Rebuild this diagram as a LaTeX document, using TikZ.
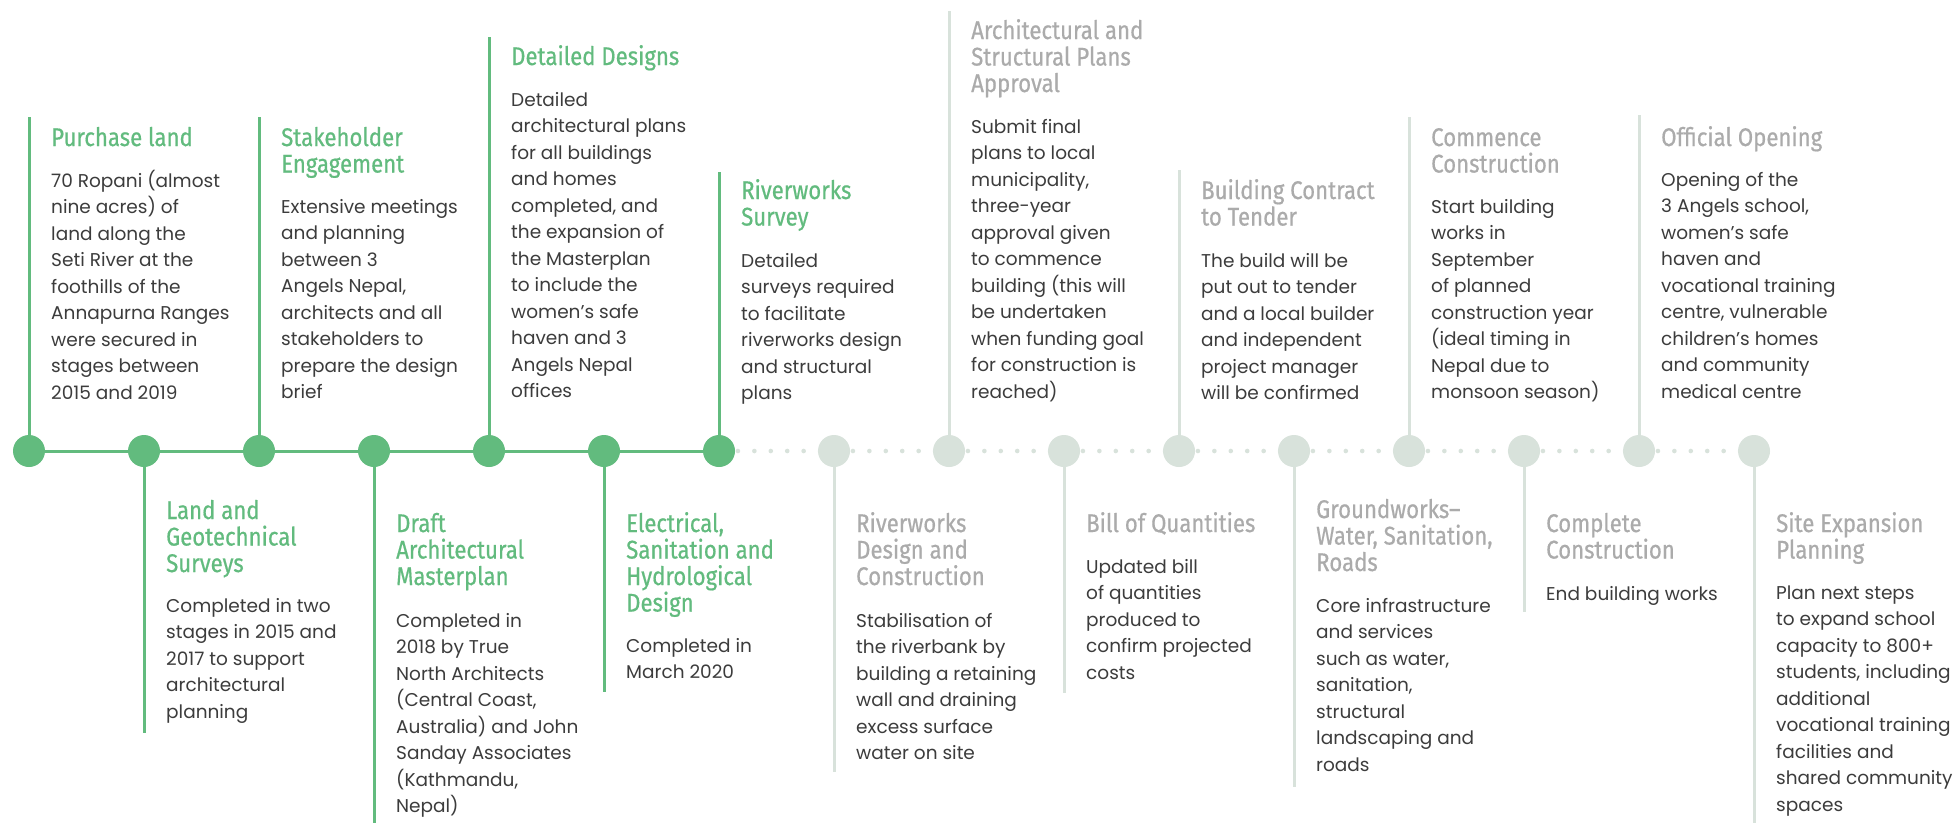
\documentclass[tikz,border=0pt]{standalone}
\usepackage{fontspec}
\usetikzlibrary{calc}
\setmainfont{Poppins}
\newfontfamily\ttlfont[FakeStretch=0.87,FakeBold=0.6]{Fira Sans}
\definecolor{tgreen}{HTML}{62BB7E}
\definecolor{tgrey}{HTML}{D8E2DB}
\definecolor{ttlgrey}{HTML}{ABABAB}
\definecolor{bodyc}{HTML}{3C3C3C}
\newcommand\stk[1]{\vtop{\baselineskip=26.5pt\lineskiplimit=-100pt\lineskip=0pt\halign{##\hfil\cr#1\crcr}}}
\begin{document}
\begin{tikzpicture}[x=1pt,y=-1pt,
  gline/.style={draw=tgreen,line width=3pt},
  qline/.style={draw=tgrey,line width=3pt},
  gcirc/.style={circle,fill=tgreen,minimum size=32pt,inner sep=0pt},
  qcirc/.style={circle,fill=tgrey,minimum size=32pt,inner sep=0pt},
  ttlg/.style={anchor=base west,inner sep=0pt,text=tgreen,font=\ttlfont\fontsize{25.5}{26.5}\selectfont},
  ttlq/.style={anchor=base west,inner sep=0pt,text=ttlgrey,font=\ttlfont\fontsize{25.5}{26.5}\selectfont},
  bodyt/.style={anchor=base west,inner sep=0pt,text=bodyc,font=\fontsize{18.5}{26.5}\selectfont}]
\useasboundingbox (0,0) rectangle (1953,823);
\fill[white] (0,0) rectangle (1953,823);
% timeline points
\foreach \k in {0,...,15}{\coordinate (p\k) at ({29+115*\k},451);}
% line ends
\coordinate (t0) at (29,117);
\coordinate (t1) at (144,733);
\coordinate (t2) at (259,117);
\coordinate (t3) at (374,823);
\coordinate (t4) at (489,37);
\coordinate (t5) at (604,692);
\coordinate (t6) at (719,172);
\coordinate (t7) at (834,772);
\coordinate (t8) at (949,11);
\coordinate (t9) at (1064,693);
\coordinate (t10) at (1179,170);
\coordinate (t11) at (1294,787);
\coordinate (t12) at (1409,117);
\coordinate (t13) at (1524,612);
\coordinate (t14) at (1639,115);
\coordinate (t15) at (1754,823);
% stems
\foreach \k in {0,...,6}{\draw[gline] (p\k) -- (t\k);}
\foreach \k in {7,...,15}{\draw[qline] (p\k) -- (t\k);}
% solid part of timeline
\draw[gline] (p0) -- (p6);
% dotted part
\foreach \k in {6,...,14}{
  \foreach \j in {1,...,6}{
    \fill[tgrey] ($(p\k)+({2.5+16.43*\j},0)$) circle (2.3);
  }
}
% circles
\foreach \k in {0,...,6}{\node[gcirc] (c\k) at (p\k) {};}
\foreach \k in {7,...,15}{\node[qcirc] (c\k) at (p\k) {};}
% texts
\node[ttlg] (h0) at (51,146) {\stk{Purchase land}};
\node[bodyt] (b0) at (51,187) {\stk{70 Ropani (almost\cr nine acres) of\cr land along the\cr Seti River at the\cr foothills of the\cr Annapurna Ranges\cr were secured in\cr stages between\cr 2015 and 2019}};
\node[ttlg] (h1) at (166,519) {\stk{Land and\cr Geotechnical\cr Surveys}};
\node[bodyt] (b1) at (166,612) {\stk{Completed in two\cr stages in 2015 and\cr 2017 to support\cr architectural\cr planning}};
\node[ttlg] (h2) at (281,146) {\stk{Stakeholder\cr Engagement}};
\node[bodyt] (b2) at (281,213) {\stk{Extensive meetings\cr and planning\cr between 3\cr Angels Nepal,\cr architects and all\cr stakeholders to\cr prepare the design\cr brief}};
\node[ttlg] (h3) at (396,532) {\stk{Draft\cr Architectural\cr Masterplan}};
\node[bodyt] (b3) at (396,627) {\stk{Completed in\cr 2018 by True\cr North Architects\cr (Central Coast,\cr Australia) and John\cr Sanday Associates\cr (Kathmandu,\cr Nepal)}};
\node[ttlg] (h4) at (511,65) {\stk{Detailed Designs}};
\node[bodyt] (b4) at (511,106) {\stk{Detailed\cr architectural plans\cr for all buildings\cr and homes\cr completed, and\cr the expansion of\cr the Masterplan\cr to include the\cr women’s safe\cr haven and 3\cr Angels Nepal\cr offices}};
\node[ttlg] (h5) at (626,532) {\stk{Electrical,\cr Sanitation and\cr Hydrological\cr Design}};
\node[bodyt] (b5) at (626,652) {\stk{Completed in\cr March 2020}};
\node[ttlg] (h6) at (741,199) {\stk{Riverworks\cr Survey}};
\node[bodyt] (b6) at (741,267) {\stk{Detailed\cr surveys required\cr to facilitate\cr riverworks design\cr and structural\cr plans}};
\node[ttlq] (h7) at (856,532) {\stk{Riverworks\cr Design and\cr Construction}};
\node[bodyt] (b7) at (856,627) {\stk{Stabilisation of\cr the riverbank by\cr building a retaining\cr wall and draining\cr excess surface\cr water on site}};
\node[ttlq] (h8) at (971,39) {\stk{Architectural and\cr Structural Plans\cr Approval}};
\node[bodyt] (b8) at (971,133) {\stk{Submit final\cr plans to local\cr municipality,\cr three-year\cr approval given\cr to commence\cr building (this will\cr be undertaken\cr when funding goal\cr for construction is\cr reached)}};
\node[ttlq] (h9) at (1086,532) {\stk{Bill of Quantities}};
\node[bodyt] (b9) at (1086,573) {\stk{Updated bill\cr of quantities\cr produced to\cr confirm projected\cr costs}};
\node[ttlq] (h10) at (1201,199) {\stk{Building Contract\cr to Tender}};
\node[bodyt] (b10) at (1201,267) {\stk{The build will be\cr put out to tender\cr and a local builder\cr and independent\cr project manager\cr will be confirmed}};
\node[ttlq] (h11) at (1316,518) {\stk{Groundworks–\cr Water, Sanitation,\cr Roads}};
\node[bodyt] (b11) at (1316,612) {\stk{Core infrastructure\cr and services\cr such as water,\cr sanitation,\cr structural\cr landscaping and\cr roads}};
\node[ttlq] (h12) at (1431,146) {\stk{Commence\cr Construction}};
\node[bodyt] (b12) at (1431,213) {\stk{Start building\cr works in\cr September\cr of planned\cr construction year\cr (ideal timing in\cr Nepal due to\cr monsoon season)}};
\node[ttlq] (h13) at (1546,532) {\stk{Complete\cr Construction}};
\node[bodyt] (b13) at (1546,600) {\stk{End building works}};
\node[ttlq] (h14) at (1661,146) {\stk{Official Opening}};
\node[bodyt] (b14) at (1661,186) {\stk{Opening of the\cr 3 Angels school,\cr women’s safe\cr haven and\cr vocational training\cr centre, vulnerable\cr children’s homes\cr and community\cr medical centre}};
\node[ttlq] (h15) at (1776,532) {\stk{Site Expansion\cr Planning}};
\node[bodyt] (b15) at (1776,599) {\stk{Plan next steps\cr to expand school\cr capacity to 800+\cr students, including\cr additional\cr vocational training\cr facilities and\cr shared community\cr spaces}};
\end{tikzpicture}
\end{document}
